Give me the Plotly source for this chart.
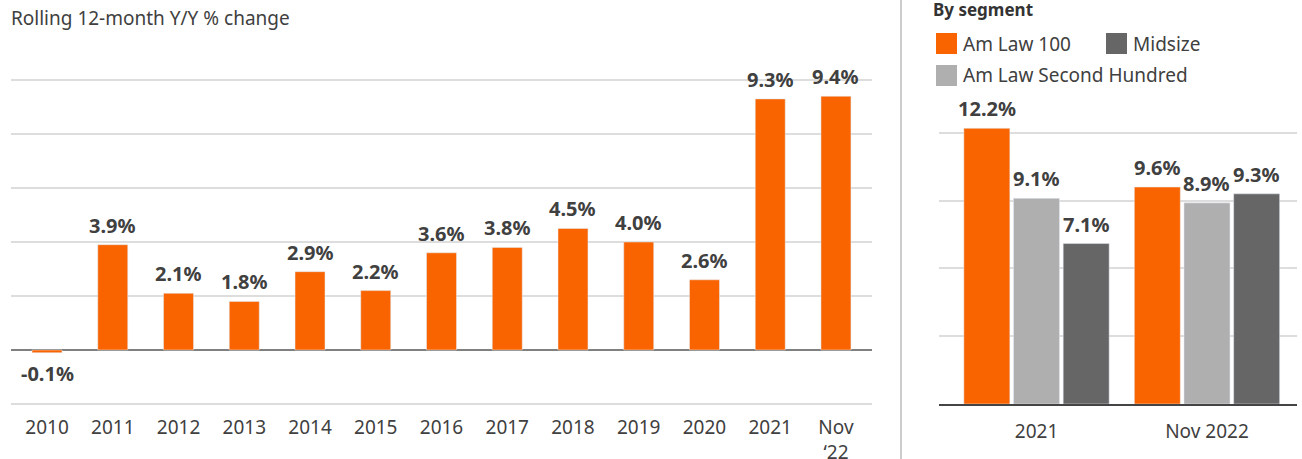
import plotly.graph_objects as go

# ---- data ----
years = ["2010", "2011", "2012", "2013", "2014", "2015", "2016",
         "2017", "2018", "2019", "2020", "2021", "Nov<br>\u201822"]
yoy_change = [-0.1, 3.9, 2.1, 1.8, 2.9, 2.2, 3.6, 3.8, 4.5, 4.0, 2.6, 9.3, 9.4]

periods = ["2021", "Nov 2022"]
amlaw_100 = [12.2, 9.6]
amlaw_second_hundred = [9.1, 8.9]
midsize = [7.1, 9.3]

segments = [
    ("Am Law 100", amlaw_100, "#f96400"),
    ("Am Law Second Hundred", amlaw_second_hundred, "#afafaf"),
    ("Midsize", midsize, "#666666"),
]

# ---- layout helpers (pixel -> paper fractions) ----
W, H = 1302, 459
FONT = "Noto Sans"
TXT = "#404040"
LABEL_FONT = dict(family=FONT, size=20, color=TXT, weight="bold")


def fx(p):
    return p / W


def fy(p):
    return 1 - p / H


fig = go.Figure()

# left panel: yearly rolling change
fig.add_trace(go.Bar(
    x=years, y=yoy_change, marker_color="#f96400", width=0.456,
    xaxis="x", yaxis="y", showlegend=False, hoverinfo="x+y",
))

# right panel: by segment
for name, vals, col in segments:
    fig.add_trace(go.Bar(
        x=periods, y=vals, name=name, marker_color=col,
        xaxis="x2", yaxis="y2", showlegend=False,
    ))

annotations = []
for i, v in enumerate(yoy_change):
    annotations.append(dict(
        x=i, y=v, xref="x", yref="y", text=f"{v:.1f}%", showarrow=False,
        yanchor="bottom" if v >= 0 else "top", yshift=4 if v >= 0 else -5,
        font=LABEL_FONT,
    ))

# bar centres inside each group (group width 0.874, three slots)
slot = 0.874 / 3
for k, (name, vals, col) in enumerate(segments):
    for i, v in enumerate(vals):
        annotations.append(dict(
            x=i + (k - 1) * slot, y=v, xref="x2", yref="y2", text=f"{v:.1f}%",
            showarrow=False, yanchor="bottom", yshift=4,
            font=LABEL_FONT,
        ))

# titles
annotations.append(dict(
    x=fx(9), y=fy(18), xref="paper", yref="paper", xanchor="left",
    yanchor="middle", text="Rolling 12-month Y/Y % change", showarrow=False,
    font=dict(family=FONT, size=19, color=TXT),
))
annotations.append(dict(
    x=fx(931), y=fy(9), xref="paper", yref="paper", xanchor="left",
    yanchor="middle", text="By segment", showarrow=False,
    font=dict(family=FONT, size=17, color="#333333", weight="bold"),
))

# legend (swatch + label)
legend_items = [
    ("Am Law 100", "#f96400", 936, 33),
    ("Midsize", "#666666", 1106, 33),
    ("Am Law Second Hundred", "#afafaf", 936, 65),
]
shapes = []
for label, col, lx, ly in legend_items:
    shapes.append(dict(
        type="rect", xref="paper", yref="paper",
        x0=fx(lx), x1=fx(lx + 21), y0=fy(ly), y1=fy(ly + 21),
        fillcolor=col, line=dict(width=0),
    ))
    annotations.append(dict(
        x=fx(lx + 25), y=fy(ly + 10.5), xref="paper", yref="paper",
        xanchor="left", yanchor="middle", text=label, showarrow=False,
        font=dict(family=FONT, size=19, color=TXT),
    ))

# vertical separator between panels
shapes.append(dict(
    type="line", xref="paper", yref="paper",
    x0=fx(901), x1=fx(901), y0=0, y1=1,
    line=dict(color="#cccccc", width=2),
))

fig.update_layout(
    width=W, height=H,
    margin=dict(l=0, r=0, t=0, b=0, autoexpand=False),
    paper_bgcolor="white", plot_bgcolor="white",
    barmode="group", bargap=0.126, bargroupgap=0.074,
    font=dict(family=FONT, color=TXT, size=19),
    annotations=annotations, shapes=shapes,
    xaxis=dict(
        domain=[fx(11), fx(872)], type="category",
        range=[-0.548, 12.548], showgrid=False, ticks="",
        tickfont=dict(size=19, color=TXT), ticklabelstandoff=9,
        anchor="y", automargin=False,
    ),
    yaxis=dict(
        domain=[fy(350 + 2.05 * 27), fy(350 - 10.05 * 27)],
        range=[-2.05, 10.05], dtick=2, showticklabels=False,
        gridcolor="#dddddd", gridwidth=2,
        zeroline=True, zerolinecolor="#808080", zerolinewidth=2,
        anchor="x", automargin=False,
    ),
    xaxis2=dict(
        domain=[fx(939), fx(1297)], type="category",
        range=[-0.572, 1.528], showgrid=False, ticks="",
        showline=True, linecolor="#444444", linewidth=2,
        tickfont=dict(size=19, color=TXT), ticklabelstandoff=9,
        anchor="y2", automargin=False,
    ),
    yaxis2=dict(
        domain=[fy(404), fy(404 - 12.4 * 22.6)],
        range=[0, 12.4], dtick=3, showticklabels=False,
        gridcolor="#dddddd", gridwidth=2, zeroline=False,
        anchor="x2", automargin=False,
    ),
)

fig.write_html("out.html")
